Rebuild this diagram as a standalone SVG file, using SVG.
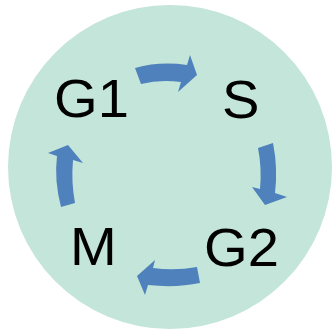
<svg xmlns="http://www.w3.org/2000/svg" width="333" height="336" viewBox="0 0 333 336">
  <style>
    .phase { font-family: "Liberation Sans", Arial, sans-serif; font-size: 53px; fill: #000; }
    .arrow { fill: #4f81bd; }
  </style>
  <rect width="333" height="336" fill="#ffffff"/>
  <!-- background disc -->
  <circle id="cycle" cx="170" cy="167" r="162" fill="#c4e5d9"/>

  <g id="node-G1"><text class="phase" x="54" y="117.5" transform="translate(54 0) scale(1.06 1) translate(-54 0)">G1</text></g>
  <g id="node-S"><text class="phase" x="222" y="118" transform="translate(222 0) scale(1.06 1) translate(-222 0)">S</text></g>
  <g id="node-G2"><text class="phase" x="204" y="266" transform="translate(204 0) scale(1.06 1) translate(-204 0)">G2</text></g>
  <g id="node-M"><text class="phase" x="70" y="265" transform="translate(70 0) scale(1.06 1) translate(-70 0)">M</text></g>

  <!-- curved block arrows, clockwise -->
  <g id="connectors">
    <path class="arrow" d="M135,68 Q160,61 187,65 L190,55 L197,75 L178,92 L181,82 Q160,79 141,84 Z"/>
    <path class="arrow" d="M258,148 L273,143 Q278,168 275,193 L287,197 L265,205 L252,187 L260,189 Q262,168 258,148 Z"/>
    <path class="arrow" d="M197,267 Q175,271 153,268 L155,260 L137,276 L145,295 L148,285 Q176,288 200,283 Z"/>
    <path class="arrow" d="M61,207 Q54,180 57,156 L48,153 L68,145 L83,163 L73,160 Q71,182 75,203 Z"/>
  </g>
</svg>
